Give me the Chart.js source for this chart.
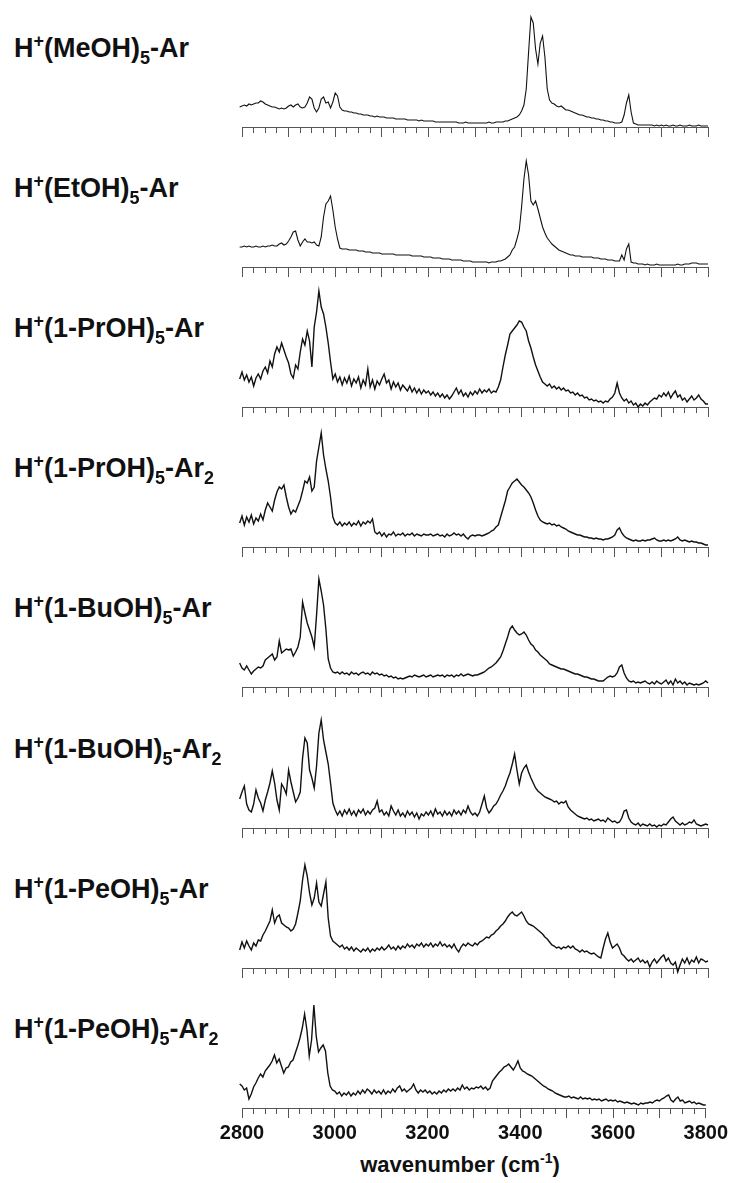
<!DOCTYPE html>
<html>
<head>
<meta charset="utf-8">
<title>IR spectra of protonated alcohol pentamers</title>
<script src="https://cdn.jsdelivr.net/npm/chart.js@4.4.0/dist/chart.umd.min.js"></script>
<style>
  body { margin: 0; background: #fff; width: 731px; height: 1183px; position: relative; overflow: hidden;
         font-family: "Liberation Sans", Arial, sans-serif; }
  canvas.panel { position: absolute; left: 0; }
  .label { position: absolute; left: 14px; font-weight: bold; font-size: 27px; line-height: 28px;
           color: #111; white-space: nowrap; }
  .label sup, .label sub { font-size: 18px; line-height: 0; position: relative; vertical-align: baseline; }
  .label sup { top: -10px; }
  .label sub { top: 7px; }
  #xtitle { position: absolute; left: 260px; width: 400px; top: 1152px; text-align: center;
            font-weight: bold; font-size: 22px; line-height: 26px; color: #111; }
  #xtitle sup { font-size: 14px; line-height: 0; position: relative; top: -9px; vertical-align: baseline; }
</style>
</head>
<body>
<div id="xtitle">wavenumber (cm<sup>-1</sup>)</div>
<script>
// spectra sampled every 5 cm-1 from 2785 to 3800
const WN_START = 2785;
const WN_END = 3800;
const WN_STEP = 5;
const wavenumbers = [];
for (let wn = WN_START; wn <= WN_END; wn += WN_STEP) wavenumbers.push(wn);

const xTicks = [2800, 3000, 3200, 3400, 3600, 3800];

const panelLabels = [
  'H<sup>+</sup>(MeOH)<sub>5</sub>-Ar',
  'H<sup>+</sup>(EtOH)<sub>5</sub>-Ar',
  'H<sup>+</sup>(1-PrOH)<sub>5</sub>-Ar',
  'H<sup>+</sup>(1-PrOH)<sub>5</sub>-Ar<sub>2</sub>',
  'H<sup>+</sup>(1-BuOH)<sub>5</sub>-Ar',
  'H<sup>+</sup>(1-BuOH)<sub>5</sub>-Ar<sub>2</sub>',
  'H<sup>+</sup>(1-PeOH)<sub>5</sub>-Ar',
  'H<sup>+</sup>(1-PeOH)<sub>5</sub>-Ar<sub>2</sub>'
];

// intensities, arbitrary units (one row per 100 cm-1)
const meoh = [20, 21, 20,
  21, 22, 21, 23, 22, 23, 24, 24, 26, 25, 23, 22, 21, 20, 20, 19, 18, 19, 18, 19,
  21, 22, 20, 22, 23, 20, 19, 20, 24, 30, 28, 19, 15, 19, 28, 30, 24, 25, 19, 25,
  34, 31, 20, 17, 16, 16, 15, 15, 14, 14, 13, 13, 12, 12, 12, 11, 11, 10, 11, 10,
  10, 10, 9, 9, 9, 9, 8, 8, 8, 8, 8, 7, 7, 7, 7, 7, 6, 7, 6, 6,
  6, 6, 6, 5, 5, 5, 5, 5, 5, 5, 5, 5, 5, 4, 4, 4, 5, 4, 4, 4,
  4, 4, 4, 4, 4, 4, 5, 4, 4, 5, 5, 5, 5, 6, 6, 7, 8, 9, 10, 12,
  16, 22, 38, 75, 110, 104, 78, 63, 84, 91, 70, 38, 27, 24, 23, 21, 20, 21, 19, 17,
  17, 16, 15, 14, 13, 12, 12, 11, 10, 10, 9, 9, 8, 8, 7, 7, 6, 6, 5, 5,
  4, 4, 4, 5, 12, 24, 32, 15, 4, 3, 2, 2, 2, 2, 2, 2, 2, 1, 2, 1,
  2, 1, 2, 1, 1, 2, 1, 1, 2, 1, 1, 1, 2, 1, 1, 1, 2, 1, 1, 1,
  1];

const etoh = [20, 21, 20,
  20, 21, 20, 21, 20, 20, 21, 20, 20, 21, 20, 21, 21, 22, 21, 21, 23, 24, 22, 23,
  26, 30, 35, 36, 27, 21, 25, 28, 25, 25, 24, 25, 22, 21, 30, 50, 63, 66, 71, 57,
  40, 28, 19, 18, 18, 18, 17, 17, 17, 17, 16, 16, 16, 15, 15, 15, 14, 14, 14, 14,
  13, 13, 13, 13, 13, 13, 12, 12, 12, 12, 12, 12, 12, 11, 11, 11, 11, 11, 10, 10,
  10, 10, 9, 9, 9, 9, 8, 8, 8, 8, 7, 7, 7, 7, 7, 6, 6, 6, 6, 5,
  5, 5, 5, 5, 5, 5, 4, 5, 5, 5, 6, 6, 7, 8, 10, 12, 17, 20, 28, 37,
  60, 88, 106, 92, 66, 62, 66, 58, 49, 40, 34, 29, 26, 23, 21, 19, 17, 16, 15, 14,
  13, 12, 12, 11, 11, 11, 10, 10, 10, 10, 10, 9, 9, 9, 8, 8, 8, 7, 7, 7,
  6, 6, 6, 12, 7, 18, 23, 5, 4, 4, 3, 3, 3, 2, 3, 2, 2, 2, 3, 2,
  2, 2, 2, 2, 2, 2, 2, 3, 2, 2, 3, 3, 3, 4, 4, 4, 3, 3, 3, 3,
  3];

const propAr = [30, 34, 28,
  35, 27, 32, 25, 30, 21, 29, 33, 28, 36, 40, 34, 46, 40, 53, 60, 55, 64, 57, 50,
  44, 33, 29, 42, 38, 55, 68, 62, 76, 66, 40, 80, 95, 116, 100, 93, 80, 64, 45, 28,
  33, 25, 30, 22, 29, 24, 31, 21, 28, 24, 30, 19, 27, 22, 38, 20, 27, 18, 26, 22,
  28, 33, 24, 27, 18, 25, 20, 24, 17, 22, 19, 16, 21, 15, 19, 14, 18, 13, 17, 14,
  16, 12, 15, 11, 14, 10, 13, 9, 12, 8, 11, 15, 19, 13, 17, 11, 14, 10, 15, 12,
  16, 13, 18, 14, 17, 15, 18, 14, 16, 15, 20, 27, 40, 52, 62, 73, 76, 79, 82, 86,
  85, 80, 76, 66, 59, 50, 42, 36, 30, 25, 23, 21, 23, 19, 21, 18, 20, 17, 19, 16,
  17, 14, 15, 12, 14, 11, 12, 9, 10, 7, 8, 6, 7, 5, 6, 4, 6, 5, 8, 10,
  14, 24, 14, 9, 6, 8, 4, 6, 2, 4, 0, 3, 1, 4, 2, 5, 7, 9, 8, 12,
  10, 14, 11, 15, 9, 13, 16, 10, 12, 7, 9, 5, 8, 11, 7, 9, 12, 8, 6, 3,
  3];

const propAr2 = [28, 32, 24,
  31, 22, 30, 25, 32, 23, 29, 26, 33, 27, 37, 44, 40, 36, 47, 55, 60, 58, 62, 50,
  40, 33, 37, 35, 41, 47, 56, 66, 64, 70, 56, 60, 86, 100, 114, 92, 78, 66, 50, 30,
  24, 22, 25, 21, 24, 22, 25, 21, 24, 22, 26, 21, 25, 23, 26, 24, 28, 15, 13, 15,
  11, 14, 10, 13, 12, 15, 11, 13, 12, 14, 11, 13, 12, 14, 11, 13, 12, 11, 13, 12,
  12, 13, 11, 12, 13, 11, 12, 10, 13, 11, 12, 14, 12, 13, 11, 13, 10, 8, 11, 12,
  11, 12, 12, 11, 12, 13, 14, 16, 17, 20, 22, 30, 38, 46, 56, 60, 64, 66, 68, 65,
  62, 60, 57, 54, 50, 44, 37, 31, 27, 25, 24, 23, 24, 22, 23, 21, 22, 20, 19, 18,
  16, 15, 14, 13, 12, 12, 11, 10, 10, 9, 9, 8, 9, 8, 8, 7, 8, 8, 9, 10,
  12, 17, 19, 14, 11, 9, 8, 7, 6, 7, 6, 6, 7, 6, 7, 7, 8, 9, 7, 6,
  6, 7, 6, 7, 6, 7, 8, 10, 7, 6, 7, 6, 5, 6, 5, 5, 4, 4, 3, 2,
  2];

const butAr = [18, 20, 24,
  19, 17, 21, 17, 13, 16, 18, 20, 19, 21, 27, 29, 31, 33, 27, 30, 46, 34, 36, 38,
  37, 38, 31, 35, 40, 50, 85, 74, 64, 57, 50, 40, 72, 108, 96, 82, 58, 28, 19, 15,
  14, 15, 13, 15, 13, 14, 12, 15, 13, 14, 12, 14, 15, 13, 14, 12, 15, 13, 14, 12,
  13, 11, 12, 10, 11, 9, 10, 8, 9, 8, 9, 10, 11, 10, 12, 11, 10, 11, 12, 10,
  11, 12, 10, 11, 12, 11, 12, 10, 12, 11, 12, 10, 12, 11, 13, 11, 12, 13, 12, 11,
  12, 12, 13, 14, 15, 17, 19, 20, 22, 24, 27, 30, 36, 43, 50, 58, 61, 57, 54, 52,
  53, 55, 52, 47, 43, 41, 37, 35, 32, 30, 28, 26, 23, 22, 21, 20, 19, 18, 18, 17,
  16, 15, 14, 13, 13, 12, 11, 10, 10, 9, 8, 8, 7, 6, 6, 6, 8, 10, 11, 10,
  11, 14, 20, 22, 14, 9, 6, 5, 6, 4, 5, 4, 5, 6, 4, 3, 5, 3, 6, 4,
  3, 5, 7, 3, 6, 2, 8, 4, 6, 3, 5, 2, 4, 3, 2, 3, 2, 3, 4, 6,
  4];

const butAr2 = [20, 26, 29,
  36, 42, 24, 18, 16, 24, 38, 30, 25, 17, 28, 36, 45, 57, 45, 28, 18, 44, 40, 34,
  58, 46, 36, 26, 30, 36, 70, 90, 85, 58, 50, 40, 62, 95, 108, 88, 76, 64, 45, 25,
  18, 13, 17, 12, 18, 14, 19, 13, 17, 12, 18, 15, 19, 13, 17, 14, 18, 20, 27, 16,
  18, 13, 16, 12, 22, 17, 13, 18, 12, 15, 11, 17, 13, 16, 11, 15, 9, 14, 12, 16,
  13, 17, 12, 19, 14, 16, 12, 17, 13, 16, 12, 18, 14, 17, 13, 18, 15, 22, 16, 13,
  15, 12, 16, 24, 32, 20, 15, 18, 22, 24, 28, 33, 37, 42, 49, 55, 64, 74, 58, 44,
  55, 60, 63, 56, 50, 45, 40, 37, 35, 33, 31, 30, 29, 28, 26, 27, 24, 26, 25, 27,
  21, 18, 16, 14, 12, 11, 10, 9, 10, 8, 9, 7, 8, 9, 7, 8, 6, 10, 8, 6,
  7, 5, 6, 10, 17, 18, 10, 6, 4, 3, 5, 2, 4, 3, 2, 4, 2, 3, 1, 3,
  2, 4, 3, 6, 9, 11, 7, 5, 3, 5, 3, 4, 6, 5, 8, 4, 3, 2, 3, 4,
  3];

const pentAr = [20, 27, 18,
  26, 20, 27, 22, 18, 25, 22, 28, 27, 33, 37, 42, 47, 58, 45, 51, 53, 45, 43, 41,
  40, 37, 39, 44, 55, 67, 88, 103, 92, 75, 63, 70, 85, 66, 62, 74, 86, 50, 32, 27,
  25, 23, 21, 23, 19, 21, 18, 21, 17, 20, 18, 16, 19, 17, 20, 16, 19, 17, 20, 18,
  21, 18, 20, 23, 19, 21, 18, 22, 19, 22, 20, 24, 21, 23, 20, 24, 22, 25, 21, 24,
  22, 25, 21, 24, 22, 26, 22, 24, 21, 23, 20, 24, 19, 16, 21, 24, 22, 25, 23, 22,
  25, 23, 26, 27, 29, 31, 30, 33, 34, 37, 39, 42, 44, 47, 51, 54, 56, 53, 52, 54,
  56, 52, 47, 44, 43, 42, 40, 38, 36, 34, 31, 29, 26, 23, 22, 20, 21, 19, 21, 20,
  22, 20, 22, 19, 18, 16, 18, 16, 17, 15, 14, 15, 13, 11, 10, 20, 29, 35, 26, 20,
  22, 24, 20, 14, 12, 9, 7, 9, 6, 8, 10, 6, 8, 5, 7, 1, 6, 9, 5, 8,
  11, 13, 7, 10, 5, 3, 6, -4, 3, 9, 5, 10, 4, 8, 6, 11, 5, 9, 8, 6,
  7];

const pentAr2 = [18, 12, 24,
  22, 18, 20, 9, 14, 21, 25, 30, 34, 31, 37, 40, 43, 47, 53, 45, 49, 42, 35, 40,
  41, 46, 48, 55, 62, 70, 80, 94, 78, 52, 68, 103, 72, 56, 60, 63, 57, 35, 22, 18,
  17, 14, 16, 12, 15, 13, 16, 12, 15, 13, 17, 14, 18, 15, 19, 17, 14, 18, 15, 17,
  14, 18, 14, 17, 15, 19, 16, 20, 22, 17, 19, 16, 18, 20, 24, 18, 15, 18, 16, 18,
  15, 17, 14, 16, 14, 17, 15, 18, 16, 19, 17, 19, 17, 20, 18, 23, 19, 21, 18, 20,
  19, 21, 20, 22, 19, 21, 18, 20, 27, 30, 33, 36, 38, 41, 42, 44, 41, 38, 42, 47,
  40, 37, 36, 34, 33, 32, 30, 28, 26, 24, 22, 21, 19, 18, 17, 15, 14, 13, 12, 11,
  11, 12, 10, 11, 10, 9, 11, 9, 10, 9, 10, 8, 9, 8, 9, 7, 8, 9, 7, 8,
  7, 8, 6, 7, 6, 5, 6, 5, 4, 5, 4, 3, 5, 4, 5, 5, 6, 5, 7, 8,
  7, 9, 10, 12, 13, 8, 6, 9, 11, 7, 8, 5, 6, 7, 5, 6, 4, 5, 4, 3,
  3];

const spectra = [meoh, etoh, propAr, propAr2, butAr, butAr2, pentAr, pentAr2];

// page geometry
const AXIS_TOP = 127;      // y of the first x axis
const AXIS_GAP = 140.1;    // distance between stacked axes
const PLOT_H = 125;        // plot height above each axis (1 unit = 1 px)
const LABEL_RISE = 69;     // label baseline above its axis
const AXIS_COLOR = '#555';
const LINE_COLOR = '#111';
const FONT = 'Liberation Sans, Arial, sans-serif';
// the two clean spectra get a thinner trace than the noisy ones
const lineWidths = [1.1, 1.1, 1.4, 1.4, 1.4, 1.4, 1.4, 1.4];

spectra.forEach((values, i) => {
  if (values.length !== wavenumbers.length) {
    console.error('spectrum ' + i + ' has ' + values.length + ' points');
  }
  const last = i === spectra.length - 1;
  const axisY = Math.round(AXIS_TOP + AXIS_GAP * i);

  const label = document.createElement('div');
  label.className = 'label';
  label.innerHTML = panelLabels[i];
  label.style.top = (axisY - LABEL_RISE - 24) + 'px';
  document.body.appendChild(label);

  const canvas = document.createElement('canvas');
  canvas.className = 'panel';
  canvas.width = 731;
  canvas.height = PLOT_H + (last ? 45 : 16);
  canvas.style.top = (axisY - PLOT_H) + 'px';
  document.body.appendChild(canvas);

  new Chart(canvas, {
    type: 'line',
    data: {
      datasets: [{
        data: wavenumbers.map((x, k) => ({ x: x, y: values[k] })),
        borderColor: LINE_COLOR,
        borderWidth: lineWidths[i],
        pointRadius: 0,
        tension: 0,
        clip: { left: 20, right: 5, top: 5, bottom: 8 }
      }]
    },
    options: {
      responsive: false,
      animation: false,
      events: [],
      layout: { padding: { left: 242, right: 23, top: 0, bottom: 0 } },
      plugins: { legend: { display: false }, tooltip: { enabled: false } },
      scales: {
        x: {
          type: 'linear',
          min: 2800,
          max: 3800,
          afterFit: (scale) => { scale.height = last ? 45 : 16; },
          border: { display: true, color: AXIS_COLOR, width: 1 },
          grid: {
            drawOnChartArea: false,
            drawTicks: true,
            tickLength: 10,
            tickColor: AXIS_COLOR,
            tickWidth: 1,
            // minor ticks every 25 cm-1 are drawn half length
            tickBorderDash: (ctx) => (ctx.tick && ctx.tick.value % 100 !== 0) ? [5, 20] : []
          },
          ticks: {
            stepSize: 25,
            autoSkip: false,
            maxRotation: 0,
            display: last,
            padding: 3,
            color: '#111',
            font: { family: FONT, size: 20, weight: 'bold' },
            callback: (v) => xTicks.includes(v) ? String(v) : ''
          }
        },
        y: { display: false, min: 0, max: PLOT_H }
      }
    }
  });
});
</script>
</body>
</html>
